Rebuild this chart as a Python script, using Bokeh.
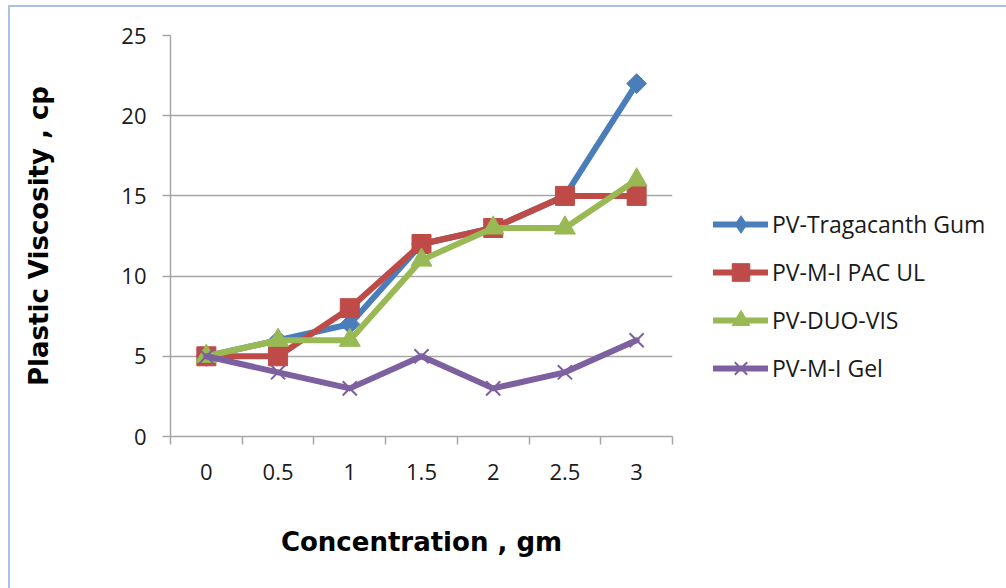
from bokeh.plotting import figure
from bokeh.models import Range1d, FixedTicker, Legend, LegendItem
from bokeh.embed import file_html
from bokeh.resources import INLINE

categories = ["0", "0.5", "1", "1.5", "2", "2.5", "3"]
tragacanth = [5, 6, 7, 12, 13, 15, 22]
pac_ul = [5, 5, 8, 12, 13, 15, 15]
duo_vis = [5, 6, 6, 11, 13, 13, 16]
mi_gel = [5, 4, 3, 5, 3, 4, 6]
series_names = ["PV-Tragacanth Gum", "PV-M-I PAC UL", "PV-DUO-VIS", "PV-M-I Gel"]
y_ticks = [0, 5, 10, 15, 20, 25]

xs = list(range(len(categories)))

# canvas offset by the outer light-blue frame (left 8+2, top 5+2)
OX, OY = 10, 7
p = figure(frame_width=502, frame_height=401, output_backend="svg", toolbar_location=None,
           x_range=Range1d(-0.5, len(categories) - 0.5), y_range=Range1d(0, 25),
           min_border_left=170 - OX, min_border_right=0, min_border_top=35 - OY,
           min_border_bottom=152)
p.styles = {"border-left": "2px solid #A9C1E3", "border-top": "2px solid #A9C1E3",
            "margin-left": "8px", "margin-top": "5px"}
p.outline_line_color = None
p.background_fill_color = "white"
p.border_fill_color = "white"

grey = "#A6A6A6"
tick_font = "Open Sans"
p.yaxis.ticker = FixedTicker(ticks=y_ticks)
p.yaxis.axis_line_color = grey
p.yaxis.axis_line_width = 1.5
p.yaxis.major_tick_line_color = grey
p.yaxis.major_tick_line_width = 1.5
p.yaxis.major_tick_out = 8
p.yaxis.major_tick_in = 0
p.yaxis.minor_tick_line_color = None
p.yaxis.major_label_text_font = tick_font
p.yaxis.major_label_text_font_size = "22px"
p.yaxis.major_label_text_color = "#1a1a1a"
p.yaxis.major_label_standoff = 16
p.yaxis.axis_label = "Plastic Viscosity , cp"
p.yaxis.axis_label_text_font = "DejaVu Sans"
p.yaxis.axis_label_text_font_style = "bold"
p.yaxis.axis_label_text_font_size = "26px"
p.yaxis.axis_label_text_color = "#000000"
p.yaxis.axis_label_standoff = 64

p.xaxis.ticker = FixedTicker(ticks=xs, minor_ticks=[i - 0.5 for i in range(len(categories) + 1)])
p.xaxis.major_label_overrides = {i: c for i, c in enumerate(categories)}
p.xaxis.axis_line_color = grey
p.xaxis.axis_line_width = 1.5
p.xaxis.major_tick_out = 0
p.xaxis.major_tick_in = 0
p.xaxis.minor_tick_line_color = grey
p.xaxis.minor_tick_line_width = 1.5
p.xaxis.minor_tick_out = 8
p.xaxis.minor_tick_in = 0
p.xaxis.major_label_text_font = tick_font
p.xaxis.major_label_text_font_size = "22px"
p.xaxis.major_label_text_color = "#1a1a1a"
p.xaxis.major_label_standoff = 19
p.xaxis.axis_label = "Concentration , gm"
p.xaxis.axis_label_text_font = "DejaVu Sans"
p.xaxis.axis_label_text_font_style = "bold"
p.xaxis.axis_label_text_font_size = "26px"
p.xaxis.axis_label_text_color = "#000000"
p.xaxis.axis_label_standoff = 44

p.xgrid.grid_line_color = None
p.ygrid.ticker = FixedTicker(ticks=y_ticks)
p.ygrid.grid_line_color = grey
p.ygrid.grid_line_width = 1.5

colors = ["#4A7EBB", "#BE4B48", "#98B954", "#7D60A0"]
data = [tragacanth, pac_ul, duo_vis, mi_gel]
# (plot marker, size, angle, legend marker)
markers = [("square", 14, 0.7854, "diamond"), ("square", 19, 0.0, "square"),
           ("triangle", 21, 0.0, "triangle"), ("x", 20, 0.0, "x")]

items = []
for name, ys, col, (mk, sz, ang, lmk) in zip(series_names, data, colors, markers):
    lr = p.line(xs, ys, line_color=col, line_width=6, line_join="round", line_cap="round")
    if mk == "x":
        sr = p.scatter(xs, ys, marker=mk, size=sz, line_color=col, line_width=2)
        legend_r = sr
    else:
        sr = p.scatter(xs, ys, marker=mk, size=sz, angle=ang, fill_color=col, line_color=col)
        legend_r = sr
        if ang != 0.0:
            # legend-only marker (no data points drawn)
            legend_r = p.scatter([float("nan")], [float("nan")], marker=lmk, size=sz,
                                 fill_color=col, line_color=col)
    items.append(LegendItem(label=name, renderers=[lr, legend_r]))

legend = Legend(items=items, location=(41, 46), glyph_width=55, glyph_height=44,
                spacing=4, padding=0, margin=0, label_standoff=4,
                label_text_font=tick_font, label_text_font_size="23px",
                label_text_color="#1a1a1a", border_line_color=None,
                background_fill_alpha=0)
p.add_layout(legend, "right")

open("out.html", "w").write(file_html(p, INLINE))
